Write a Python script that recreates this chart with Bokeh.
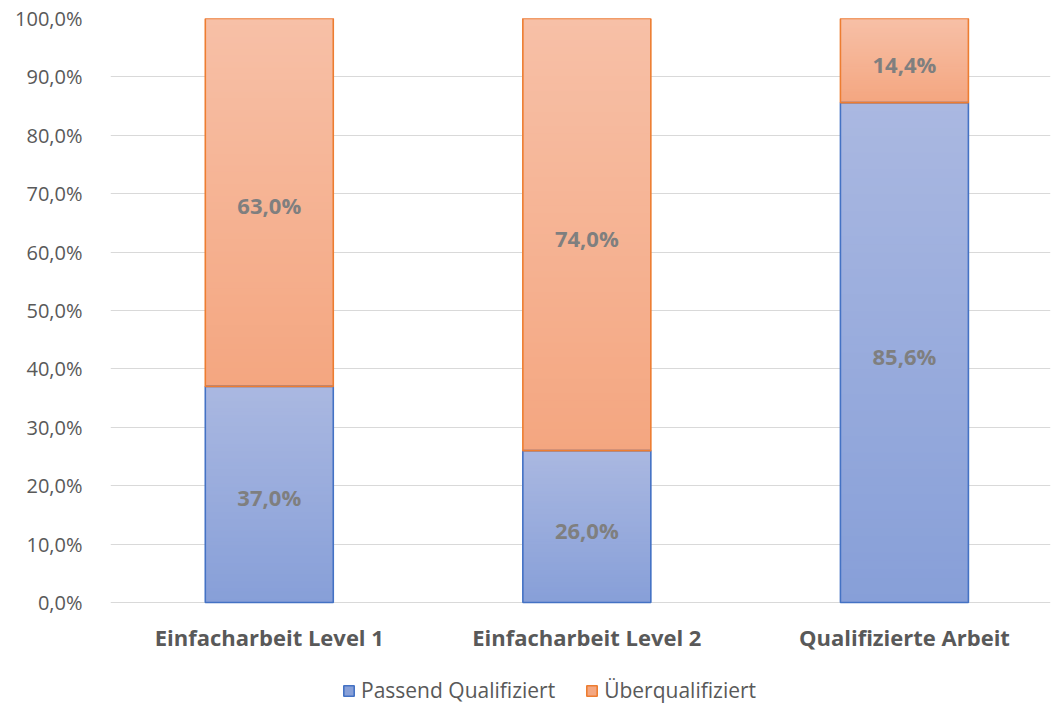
import numpy as np
from bokeh.plotting import figure
from bokeh.models import ColumnDataSource, Range1d, FixedTicker, Legend, LegendItem
from bokeh.core.properties import value
from bokeh.embed import file_html
from bokeh.resources import INLINE

# Data
categories = ["Einfacharbeit Level 1", "Einfacharbeit Level 2", "Qualifizierte Arbeit"]
passend = [37.0, 26.0, 85.6]
ueber = [63.0, 74.0, 14.4]
series_names = ["Passend Qualifiziert", "Überqualifiziert"]
y_ticks = [0, 10, 20, 30, 40, 50, 60, 70, 80, 90, 100]


def pct(v):
    return f"{v:.1f}%".replace(".", ",")


BAR_W = 0.403
FONT = "Open Sans"
TEXT_GREY = "#595959"

x_idx = np.arange(len(categories))

# The frame reaches down to the page bottom so that the category labels and
# the legend can sit beneath the 0 % line; the visible scale is 0..100 %.
PLOT_PX = 584                 # pixel height of the 0..100 % band
BOTTOM_PX = 102               # room below 0 % for category labels and legend
y_start = -100.0 * BOTTOM_PX / PLOT_PX

p = figure(frame_width=940, frame_height=PLOT_PX + BOTTOM_PX,
           x_range=Range1d(-0.5, 2.46), y_range=Range1d(y_start, 100),
           output_backend="svg", toolbar_location=None,
           min_border_left=110, min_border_right=4,
           min_border_top=18, min_border_bottom=0)
p.outline_line_color = None
p.background_fill_color = "white"
p.border_fill_color = "white"
p.xgrid.visible = False
p.xaxis.visible = False
p.ygrid.grid_line_color = "#D9D9D9"
p.ygrid.grid_line_width = 1
p.ygrid.ticker = FixedTicker(ticks=y_ticks)


def hex_to_rgb(h):
    h = h.lstrip("#")
    return np.array([int(h[i:i + 2], 16) for i in (0, 2, 4)], dtype=float)


def gradient_source(xs, bottoms, tops, c_top, c_bot, n=60):
    """Vertical gradient: overlapping strips, each running from its own
    start up to the segment top, painted bottom-first so no seams show."""
    top_rgb, bot_rgb = hex_to_rgb(c_top), hex_to_rgb(c_bot)
    d = dict(left=[], right=[], bottom=[], top=[], color=[])
    for x, y0, y1 in zip(xs, bottoms, tops):
        edges = np.linspace(y0, y1, n + 1)
        for k in range(n):
            f = (k + 0.5) / n
            rgb = bot_rgb + (top_rgb - bot_rgb) * f
            d["left"].append(x - BAR_W / 2)
            d["right"].append(x + BAR_W / 2)
            d["bottom"].append(edges[k])
            d["top"].append(y1)
            d["color"].append("#%02x%02x%02x" % tuple(int(round(c)) for c in rgb))
    return ColumnDataSource(d)


p_bottom = [0.0] * len(passend)
p_top = list(passend)
u_bottom = list(passend)
u_top = [a + b for a, b in zip(passend, ueber)]

blue_src = gradient_source(x_idx, p_bottom, p_top, "#AAB8E1", "#879FD8")
orange_src = gradient_source(x_idx, u_bottom, u_top, "#F7C0A7", "#F4A680")
fills = []
for src in (blue_src, orange_src):
    fills.append(p.quad(left="left", right="right", bottom="bottom", top="top", source=src,
                        fill_color="color", line_color=None))

# Segment outlines
out_blue = p.quad(left=x_idx - BAR_W / 2, right=x_idx + BAR_W / 2, bottom=p_bottom, top=p_top,
                  fill_color=None, line_color="#4472C4", line_width=1.6)
out_orange = p.quad(left=x_idx - BAR_W / 2, right=x_idx + BAR_W / 2, bottom=u_bottom, top=u_top,
                    fill_color=None, line_color="#ED7D31", line_width=1.6)

# Value labels in the middle of each segment
lab_x = list(x_idx) * 2
lab_y = [(b + t) / 2 for b, t in zip(p_bottom, p_top)] + [(b + t) / 2 for b, t in zip(u_bottom, u_top)]
lab_t = [pct(v) for v in passend] + [pct(v) for v in ueber]
p.text(x=lab_x, y=lab_y, text=lab_t, text_align="center", text_baseline="middle",
       text_font=value(FONT), text_font_style="bold", text_font_size="22px",
       text_color="#7F7F7F", y_offset=3)

# Category labels under the baseline
p.text(x=x_idx, y=[0.0] * len(categories), text=categories, text_align="center",
       text_baseline="middle", y_offset=34,
       text_font=value(FONT), text_font_style="bold", text_font_size="22px",
       text_color=TEXT_GREY)

# Y axis
p.yaxis.ticker = FixedTicker(ticks=y_ticks)
p.yaxis.major_label_overrides = {t: pct(t) for t in y_ticks}
p.yaxis.axis_line_color = None
p.yaxis.major_tick_line_color = None
p.yaxis.minor_tick_line_color = None
p.yaxis.major_label_text_font = FONT
p.yaxis.major_label_text_color = TEXT_GREY
p.yaxis.major_label_text_font_size = "20px"
p.yaxis.major_label_standoff = 22

# Legend at the bottom: fill swatch from the gradient renderer,
# border from the outline renderer
legend = Legend(items=[LegendItem(label=series_names[0], renderers=[fills[0], out_blue], index=1),
                       LegendItem(label=series_names[1], renderers=[fills[1], out_orange], index=1)],
                orientation="horizontal", location=(232, 0),
                border_line_color=None, background_fill_alpha=0,
                label_text_font=FONT, label_text_font_size="21px",
                label_text_color=TEXT_GREY, glyph_width=13, glyph_height=13,
                label_standoff=6, spacing=30, padding=0, margin=0)
p.add_layout(legend, "center")

open("out.html", "w").write(file_html(p, INLINE))
